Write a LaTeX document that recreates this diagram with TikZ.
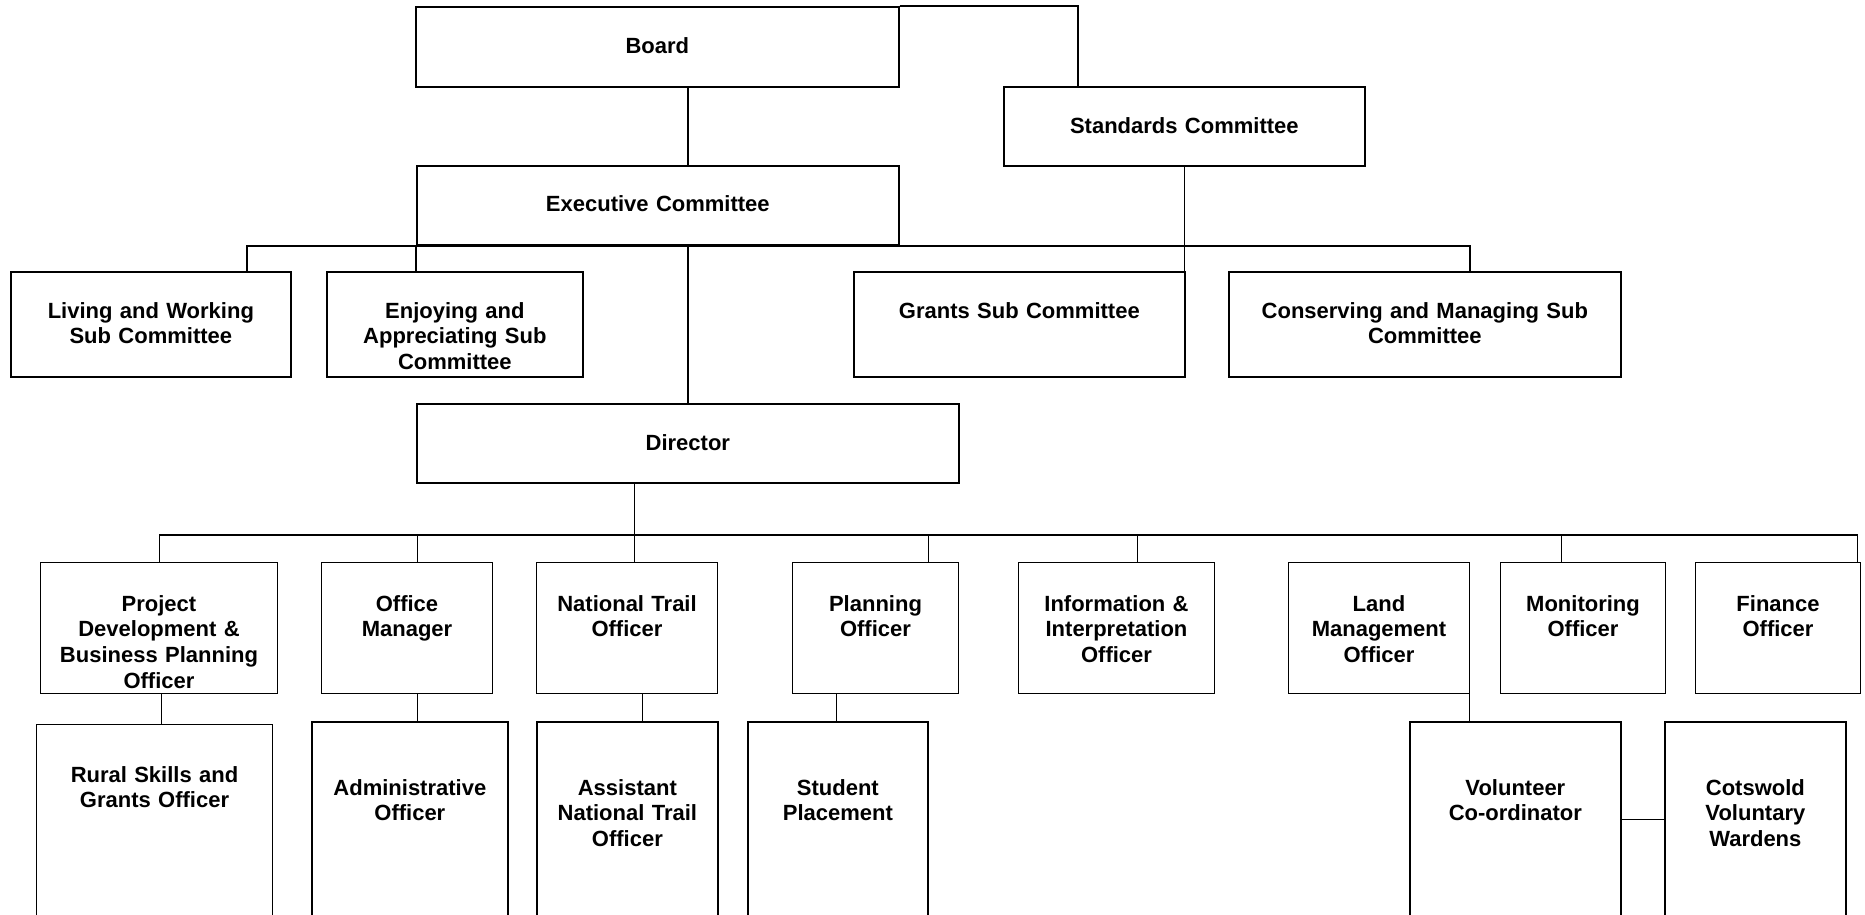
\documentclass[tikz,border=0pt]{standalone}
\usepackage{fontspec}
\setmainfont{Liberation Sans}

\tikzset{
    box/.style={draw, line width=1.7pt, rectangle, inner sep=0pt, anchor=north west},
    thinbox/.style={box, line width=1pt},
    txt/.style={text width=380pt, align=center, inner sep=0pt, anchor=base,
        font=\bfseries\fontsize{22pt}{25.7pt}\selectfont},
    link/.style={line width=1.7pt},
    thinlink/.style={line width=1pt},
}

\begin{document}
\begin{tikzpicture}[x=1pt, y=-1pt]
    \useasboundingbox (0,0) rectangle (1865,915);
    \clip (0,0) rectangle (1865,915);

    % Draw committees
    \node[box, minimum width=483pt, minimum height=80pt] (board) at (415,6) {};
    \node[box, minimum width=361pt, minimum height=79pt] (standards) at (1003,86) {};
    \node[box, minimum width=482pt, minimum height=79pt] (exec) at (416,165) {};
    \node[box, minimum width=280pt, minimum height=105pt] (living) at (10,271) {};
    \node[box, minimum width=256pt, minimum height=105pt] (enjoying) at (326,271) {};
    \node[box, minimum width=331pt, minimum height=105pt] (grants) at (853,271) {};
    \node[box, minimum width=392pt, minimum height=105pt] (conserving) at (1228,271) {};
    \node[box, minimum width=542pt, minimum height=79pt] (director) at (416,403) {};

    \node[txt] (board-t) at ([yshift=-48pt]board.north) {Board};
    \node[txt] (standards-t) at ([yshift=-47pt]standards.north) {Standards Committee};
    \node[txt] (exec-t) at ([yshift=-46pt]exec.north) {Executive Committee};
    \node[txt] (living-t) at ([yshift=-47pt]living.north) {Living and Working\\Sub Committee};
    \node[txt] (enjoying-t) at ([yshift=-47pt]enjoying.north) {Enjoying and\\Appreciating Sub\\Committee};
    \node[txt] (grants-t) at ([yshift=-47pt]grants.north) {Grants Sub Committee};
    \node[txt] (conserving-t) at ([yshift=-47pt]conserving.north) {Conserving and Managing Sub\\Committee};
    \node[txt] (director-t) at ([yshift=-47pt]director.north) {Director};

    % Draw officers
    \node[thinbox, minimum width=237pt, minimum height=131pt] (project) at (40,562) {};
    \node[thinbox, minimum width=171pt, minimum height=131pt] (office) at (321,562) {};
    \node[thinbox, minimum width=181pt, minimum height=131pt] (ntrail) at (536,562) {};
    \node[thinbox, minimum width=166pt, minimum height=131pt] (planning) at (792,562) {};
    \node[thinbox, minimum width=196pt, minimum height=131pt] (info) at (1018,562) {};
    \node[thinbox, minimum width=181pt, minimum height=131pt] (land) at (1288,562) {};
    \node[thinbox, minimum width=165pt, minimum height=131pt] (monitoring) at (1500,562) {};
    \node[thinbox, minimum width=165pt, minimum height=131pt] (finance) at (1695,562) {};

    \node[txt] (project-t) at ([yshift=-49pt]project.north) {Project\\Development \&\\Business Planning\\Officer};
    \node[txt] (office-t) at ([yshift=-49pt]office.north) {Office\\Manager};
    \node[txt] (ntrail-t) at ([yshift=-49pt]ntrail.north) {National Trail\\Officer};
    \node[txt] (planning-t) at ([yshift=-49pt]planning.north) {Planning\\Officer};
    \node[txt] (info-t) at ([yshift=-49pt]info.north) {Information \&\\Interpretation\\Officer};
    \node[txt] (land-t) at ([yshift=-49pt]land.north) {Land\\Management\\Officer};
    \node[txt] (monitoring-t) at ([yshift=-49pt]monitoring.north) {Monitoring\\Officer};
    \node[txt] (finance-t) at ([yshift=-49pt]finance.north) {Finance\\Officer};

    % Draw assistants
    \node[thinbox, minimum width=236pt, minimum height=192pt] (rural) at (36,724) {};
    \node[box, minimum width=196pt, minimum height=195pt] (admin) at (311,721) {};
    \node[box, minimum width=181pt, minimum height=195pt] (assistant) at (536,721) {};
    \node[box, minimum width=180pt, minimum height=195pt] (student) at (747,721) {};
    \node[box, minimum width=211pt, minimum height=195pt] (volunteer) at (1409,721) {};
    \node[box, minimum width=181pt, minimum height=195pt] (cotswold) at (1664,721) {};

    \node[txt] (rural-t) at ([yshift=-58pt]rural.north) {Rural Skills and\\Grants Officer};
    \node[txt] (admin-t) at ([yshift=-74pt]admin.north) {Administrative\\Officer};
    \node[txt] (assistant-t) at ([yshift=-74pt]assistant.north) {Assistant\\National Trail\\Officer};
    \node[txt] (student-t) at ([yshift=-74pt]student.north) {Student\\Placement};
    \node[txt] (volunteer-t) at ([yshift=-74pt]volunteer.north) {Volunteer\\Co-ordinator};
    \node[txt] (cotswold-t) at ([yshift=-74pt]cotswold.north) {Cotswold\\Voluntary\\Wardens};

    % Draw edges
    \draw[link] (board.north east) -| ([xshift=75pt]standards.north west);
    \draw[link] (board.south -| director.north) -- (exec.north -| director.north);
    \draw[link] (exec.south -| director.north) -- (director.north);
    \draw[link] ([xshift=-45pt]living.north east) |- (exec.south) -| ([xshift=45pt]conserving.north);
    \draw[link] (exec.south west) -- (exec.south west |- enjoying.north);
    \draw[link] (standards.south) -- (standards.south |- grants.north);

    \coordinate (dbus) at (634,535);
    \draw[thinlink] (director.south -| dbus) -- (dbus |- ntrail.north);
    \draw[link] (project.north |- dbus) -- ([xshift=-3pt]finance.north east |- dbus);
    \foreach \n/\s in {project/0, office/10, planning/53, info/21, monitoring/-22, finance/79.5} {
        \path ([xshift=\s pt]\n.north) coordinate (top);
        \draw[thinlink] (top) -- (top |- dbus);
    }
    \foreach \a/\b/\s in {project/rural/2.5, office/admin/10, ntrail/assistant/15.5, planning/student/-39, land/volunteer/90.5} {
        \path ([xshift=\s pt]\a.south) coordinate (bot);
        \draw[thinlink] (bot) -- (bot |- \b.north);
    }
    \draw[thinlink] (volunteer.east) -- (cotswold.west);
\end{tikzpicture}
\end{document}
